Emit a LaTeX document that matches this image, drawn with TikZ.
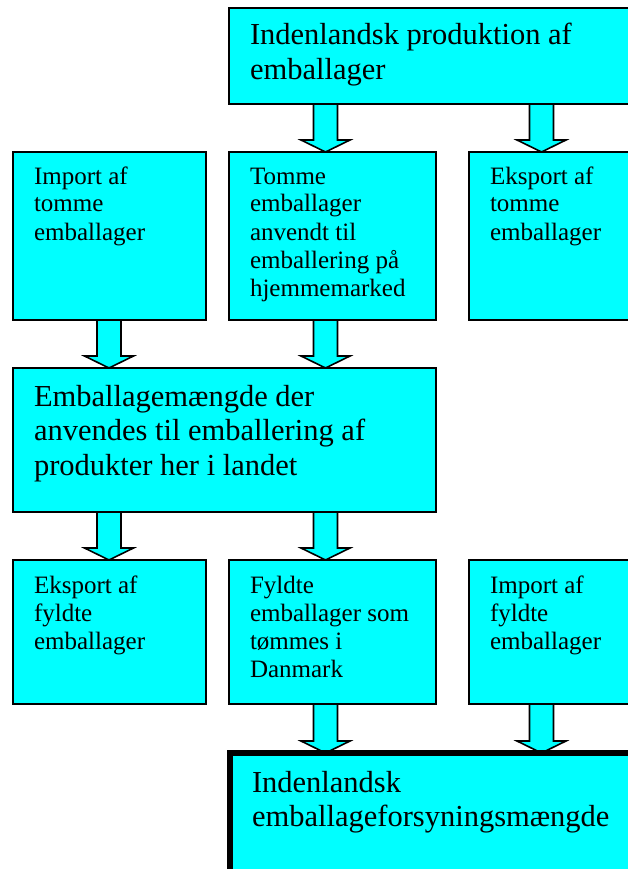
\documentclass[tikz,border=0pt]{standalone}
\usepackage{fontspec}
\setmainfont{Liberation Serif}
\usetikzlibrary{calc,backgrounds}
\definecolor{boxcyan}{HTML}{00FFFF}
\newcommand\smallf{\fontsize{25pt}{28pt}\selectfont}
\newcommand\largef{\fontsize{30.5pt}{34.5pt}\selectfont}
% #1 width, #2 height, #3 left offset, #4 first baseline, #5 font, #6 text
\newcommand\btext[6]{\parbox[t][#2][t]{#1}{\raggedright\leftskip=#3\relax #5\rule{0pt}{#4}#6}}
\tikzset{
  box/.style={draw=black, fill=boxcyan, line width=1.6pt, inner sep=0pt, outer sep=0pt, anchor=north west, shape=rectangle},
  thickbox/.style={box, line width=6pt},
  blockarr/.style={fill=boxcyan, draw=black, line width=1.6pt, line join=miter}
}
\newcommand\blockarrow[3]{%
  \draw[blockarr] let \p1=(#1.south), \p2=(#2.north) in
    (#3pt-12pt,\y1) -- (#3pt-12pt,\y2+12pt) -- (#3pt-24.5pt,\y2+12pt) -- (#3pt,\y2)
    -- (#3pt+24.5pt,\y2+12pt) -- (#3pt+12pt,\y2+12pt) -- (#3pt+12pt,\y1);
}
\begin{document}
\begin{tikzpicture}[x=1pt,y=-1pt]
\useasboundingbox (0,0) rectangle (628,869);
\clip (0,0) rectangle (628,869);
\node[box] (top) at (229,8) {\btext{431pt}{96pt}{21pt}{37pt}{\largef}{Indenlandsk produktion af\\emballager}};
\node[box] (b1) at (13,152) {\btext{193pt}{168pt}{21pt}{32pt}{\smallf}{Import af\\tomme\\emballager}};
\node[box] (b2) at (229,152) {\btext{207pt}{168pt}{21pt}{32pt}{\smallf}{Tomme\\emballager\\anvendt til\\emballering på\\hjemmemarked}};
\node[box] (b3) at (469,152) {\btext{200pt}{168pt}{21pt}{32pt}{\smallf}{Eksport af\\tomme\\emballager}};
\node[box] (mid) at (13,368) {\btext{423pt}{144pt}{21pt}{38pt}{\largef}{Emballagemængde der\\anvendes til emballering af\\produkter her i landet}};
\node[box] (c1) at (13,560) {\btext{193pt}{144pt}{21pt}{33pt}{\smallf}{Eksport af\\fyldte\\emballager}};
\node[box] (c2) at (229,560) {\btext{207pt}{144pt}{21pt}{33pt}{\smallf}{Fyldte\\emballager som\\tømmes i\\Danmark}};
\node[box] (c3) at (469,560) {\btext{200pt}{144pt}{21pt}{33pt}{\smallf}{Import af\\fyldte\\emballager}};
\node[thickbox] (final) at (230,753) {\btext{440pt}{150pt}{22pt}{39pt}{\largef}{Indenlandsk\\emballageforsyningsmængde}};
\begin{scope}[on background layer]
\blockarrow{top}{b2}{325.5}
\blockarrow{top}{b3}{541.5}
\blockarrow{b1}{mid}{109}
\blockarrow{b2}{mid}{325.5}
\blockarrow{mid}{c1}{109}
\blockarrow{mid}{c2}{325.5}
\blockarrow{c2}{final}{325.5}
\blockarrow{c3}{final}{541.5}
\end{scope}
\end{tikzpicture}
\end{document}
